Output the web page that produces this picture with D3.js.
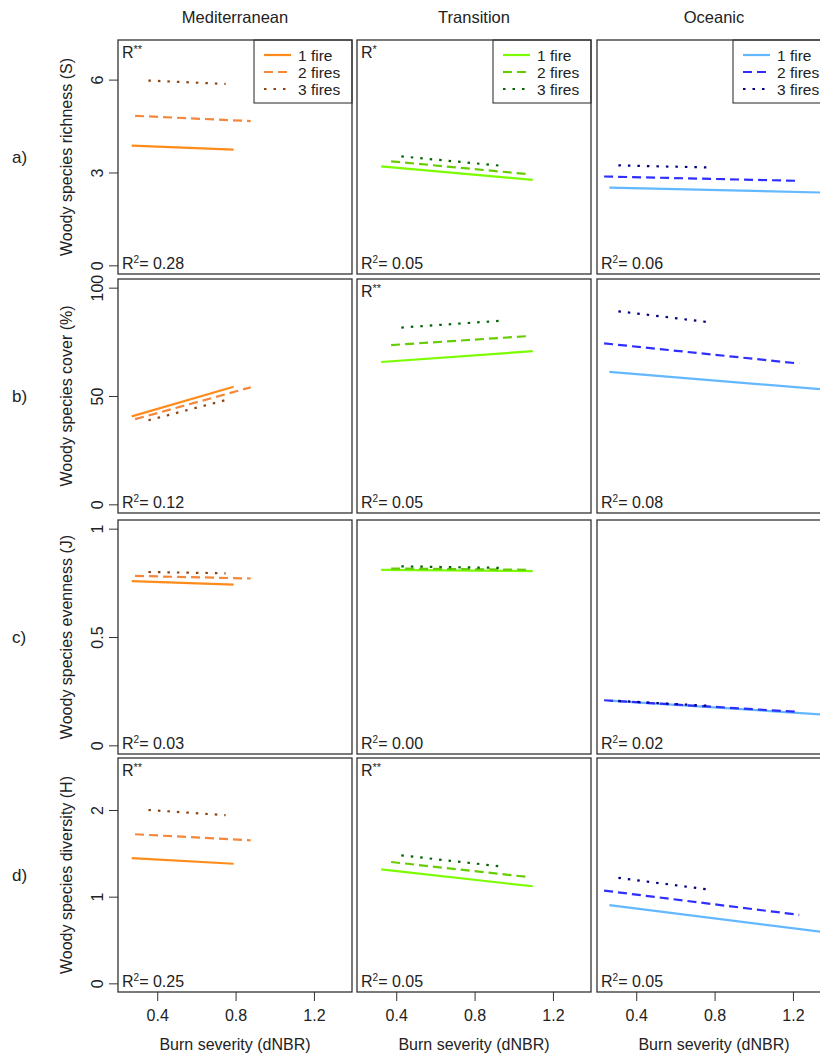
<!DOCTYPE html>
<html>
<head>
<meta charset="utf-8">
<script src="https://cdn.jsdelivr.net/npm/d3@7"></script>
<style>
  html, body { margin: 0; padding: 0; background: #fff; }
  svg { display: block; font-family: "Liberation Sans", Arial, sans-serif; }
</style>
</head>
<body>
<svg id="chart" width="820" height="1059"></svg>
<script>
// ---------- data ----------
const regions = ["Mediterranean", "Transition", "Oceanic"];
const rowLabels = ["a)", "b)", "c)", "d)"];
const yTitles = [
  "Woody species richness (S)",
  "Woody species cover (%)",
  "Woody species evenness (J)",
  "Woody species diversity (H)"
];
const yTicks = [[0, 3, 6], [0, 50, 100], [0, 0.5, 1], [0, 1, 2]];
const yLimits = [[0, 7], [0, 100], [0, 1], [0, 2.5]];
const xTicks = [0.4, 0.8, 1.2];
const xLimits = [0.244, 1.35];
const xTitle = "Burn severity (dNBR)";
const fireLabels = ["1 fire", "2 fires", "3 fires"];
const signif = [["R**", "R*", ""], ["", "R**", ""], ["", "", ""], ["R**", "R**", ""]];
const r2 = [["0.28", "0.05", "0.06"], ["0.12", "0.05", "0.08"], ["0.03", "0.00", "0.02"], ["0.25", "0.05", "0.05"]];

// burn severity range (start, end) per region, per number of fires
const xRanges = [
  [[0.27, 0.79], [0.287, 0.877], [0.355, 0.749]],
  [[0.323, 1.097], [0.374, 1.084], [0.426, 0.93]],
  [[0.263, 1.36], [0.236, 1.232], [0.309, 0.777]]
];
// fitted values at start / end: [region][fires]
const richness = [
  [[3.87, 3.74], [4.83, 4.66], [5.97, 5.86]],
  [[3.20, 2.76], [3.36, 2.94], [3.52, 3.22]],
  [[2.51, 2.35], [2.87, 2.73], [3.23, 3.16]]
];
const cover = [
  [[40.6, 54.3], [39.3, 54.0], [38.8, 48.1]],
  [[65.7, 70.7], [73.5, 77.7], [81.6, 84.7]],
  [[61.1, 53.0], [74.3, 65.0], [89.1, 84.0]]
];
const evenness = [
  [[0.758, 0.742], [0.782, 0.770], [0.800, 0.794]],
  [[0.810, 0.804], [0.816, 0.810], [0.826, 0.819]],
  [[0.206, 0.142], [0.208, 0.154], [0.205, 0.182]]
];
const diversity = [
  [[1.445, 1.38], [1.72, 1.65], [2.0, 1.94]],
  [[1.314, 1.12], [1.40, 1.224], [1.477, 1.35]],
  [[0.903, 0.59], [1.07, 0.79], [1.217, 1.08]]
];
const rowData = [richness, cover, evenness, diversity];

const regionColors = [
  ["#FF8C1A", "#F5873A", "#8B4513"],
  ["#7CFC00", "#66CD00", "#006400"],
  ["#63B8FF", "#2E2EFF", "#000080"]
];
const dashes = ["none", "9,5", "2.5,7"];

// ---------- layout ----------
const panelLeft = [118, 357, 597];
const panelTop = [40, 279, 520, 758];
const pw = 234, ph = 234;
const textColor = "#222";
const fs = 16;

const svg = d3.select("#chart");

function extend(lim) {
  const r = lim[1] - lim[0];
  return [lim[0] - 0.04 * r, lim[1] + 0.04 * r];
}

// column titles
regions.forEach((reg, c) => {
  svg.append("text")
    .attr("x", panelLeft[c] + pw / 2)
    .attr("y", 23)
    .attr("text-anchor", "middle")
    .attr("font-size", 16.5)
    .attr("fill", textColor)
    .text(reg);
});

const x = d3.scaleLinear().domain(extend(xLimits)).range([0, pw]);

rowData.forEach((data, r) => {
  const y = d3.scaleLinear().domain(extend(yLimits[r])).range([ph, 0]);

  // row label
  svg.append("text")
    .attr("x", 12)
    .attr("y", panelTop[r] + ph / 2 + 6)
    .attr("font-size", 17)
    .attr("fill", textColor)
    .text(rowLabels[r]);

  // y title
  svg.append("text")
    .attr("transform", `translate(72,${panelTop[r] + ph / 2}) rotate(-90)`)
    .attr("text-anchor", "middle")
    .attr("font-size", fs)
    .attr("fill", textColor)
    .text(yTitles[r]);

  regions.forEach((reg, c) => {
    const g = svg.append("g").attr("transform", `translate(${panelLeft[c]},${panelTop[r]})`);
    const clipId = `clip-${r}-${c}`;
    g.append("clipPath").attr("id", clipId)
      .append("rect").attr("width", pw).attr("height", ph);

    // y axis on first column
    if (c === 0) {
      const ax = g.append("g").call(d3.axisLeft(y).tickValues(yTicks[r]).tickSize(9).tickFormat(d3.format("~g")));
      ax.select(".domain").remove();
      ax.selectAll("line").attr("stroke", "#333");
      ax.selectAll(".tick text")
        .attr("font-size", fs)
        .attr("fill", textColor)
        .attr("font-family", "Liberation Sans, Arial, sans-serif")
        .attr("x", 0).attr("y", 0)
        .attr("dy", "0.35em")
        .attr("text-anchor", "middle")
        .attr("transform", "translate(-21,0) rotate(-90)");
    }

    // x axis on last row
    if (r === rowData.length - 1) {
      const ax = g.append("g").attr("transform", `translate(0,${ph})`)
        .call(d3.axisBottom(x).tickValues(xTicks).tickSize(9).tickFormat(d3.format(".1f")));
      ax.select(".domain").remove();
      ax.selectAll("line").attr("stroke", "#333");
      ax.selectAll(".tick text")
        .attr("font-size", fs)
        .attr("fill", textColor)
        .attr("font-family", "Liberation Sans, Arial, sans-serif")
        .attr("y", 18);
      g.append("text")
        .attr("x", pw / 2)
        .attr("y", ph + 58)
        .attr("text-anchor", "middle")
        .attr("font-size", fs)
        .attr("fill", textColor)
        .text(xTitle);
    }

    // lines
    const lg = g.append("g").attr("clip-path", `url(#${clipId})`);
    const line = d3.line().x(d => x(d[0])).y(d => y(d[1]));
    data[c].forEach((vals, f) => {
      const pts = [[xRanges[c][f][0], vals[0]], [xRanges[c][f][1], vals[1]]];
      lg.append("path")
        .attr("d", line(pts))
        .attr("fill", "none")
        .attr("stroke", regionColors[c][f])
        .attr("stroke-width", 2.2)
        .attr("stroke-dasharray", dashes[f]);
    });

    // annotations
    if (signif[r][c]) {
      const t = g.append("text").attr("x", 4).attr("y", 18).attr("font-size", fs).attr("fill", textColor);
      t.append("tspan").text(signif[r][c].charAt(0));
      t.append("tspan").attr("font-size", 11).attr("dy", -5).text(signif[r][c].slice(1));
    }
    const rt = g.append("text").attr("x", 4).attr("y", ph - 5).attr("font-size", fs).attr("fill", textColor);
    rt.append("tspan").text("R");
    rt.append("tspan").attr("font-size", 10).attr("dy", -6).text("2");
    rt.append("tspan").attr("dy", 6).text("= " + r2[r][c]);

    // legend on first row
    if (r === 0) {
      const lw = 98, lh = 63;
      const leg = g.append("g").attr("transform", `translate(${pw - lw},0)`);
      leg.append("rect").attr("width", lw).attr("height", lh)
        .attr("fill", "#fff").attr("stroke", "#222").attr("stroke-width", 1);
      fireLabels.forEach((lab, f) => {
        const yy = 15 + f * 17;
        leg.append("line")
          .attr("x1", 10).attr("x2", 37).attr("y1", yy).attr("y2", yy)
          .attr("stroke", regionColors[c][f])
          .attr("stroke-width", 2.2)
          .attr("stroke-dasharray", dashes[f]);
        leg.append("text").attr("x", 44).attr("y", yy + 5.5)
          .attr("font-size", 15.5).attr("fill", textColor).text(lab);
      });
    }

    // panel frame
    g.append("rect").attr("width", pw).attr("height", ph)
      .attr("fill", "none").attr("stroke", "#333").attr("stroke-width", 1.3);
  });
});
</script>
</body>
</html>
